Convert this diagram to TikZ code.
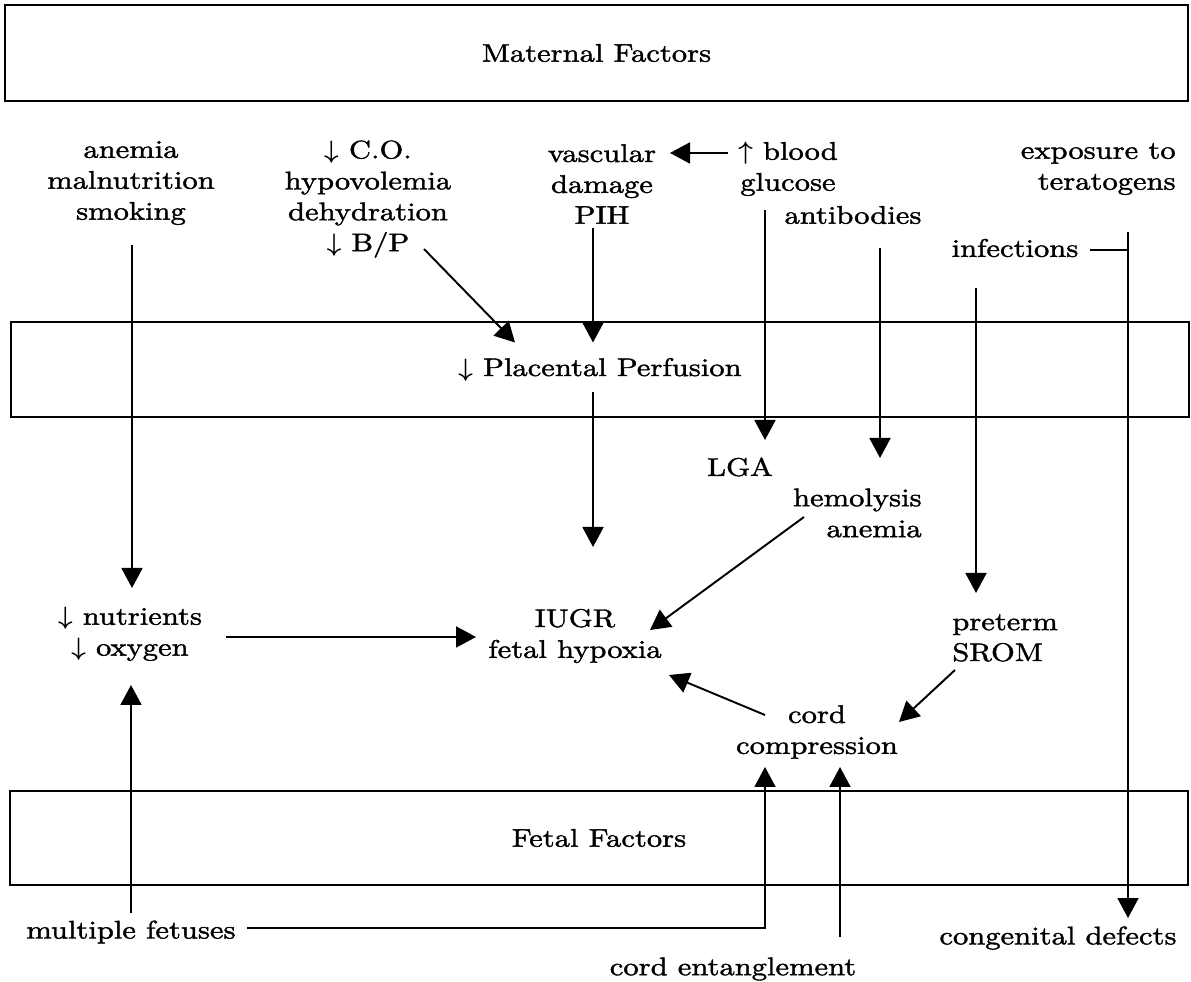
\documentclass[tikz,border=0pt]{standalone}
\usepackage{amsmath}
\usepackage{fontspec}
\setmainfont{lmroman10-regular.otf}[FakeStretch=1.2,FakeBold=1.5]
\usetikzlibrary{arrows.meta,calc}
\newcommand{\dn}{$\boldsymbol{\downarrow}$}
\newcommand{\upa}{$\boldsymbol{\uparrow}$}
\begin{document}
\begin{tikzpicture}[x=0.02cm,y=-0.02cm,
  txt/.style={font=\fontsize{14.5}{17.6}\selectfont},
  lbl/.style={txt, align=center, inner sep=0pt},
  band/.style={txt, draw, line width=0.9pt, inner sep=0pt},
  link/.style={line width=1.1pt},
  arr/.style={link, -{Triangle[length=0.4cm,width=0.42cm]}}]
\useasboundingbox (0,0) rectangle (1191,982);

% the three factor bands
\node[band, minimum width=23.66cm, minimum height=1.92cm] (mat) at (596.5,53) {Maternal Factors};
\node[band, minimum width=23.56cm, minimum height=1.9cm] (plac) at (600,369.5) {\dn{} Placental Perfusion};
\node[band, minimum width=23.56cm, minimum height=1.88cm] (fet) at (599,838) {Fetal Factors};

% maternal causes
\node[lbl] (anem) at (131,183) {anemia\\malnutrition\\smoking};
\node[lbl] (co) at (368,199) {\dn{} C.O.\\hypovolemia\\dehydration\\\dn{} B/P};
\node[lbl] (vasc) at (602,184) {vascular\\damage\\PIH};
\node[lbl] (gluc) at (788,169) {\upa{} blood\\glucose};
\node[lbl] (anti) at (853,215) {antibodies};
\node[lbl, align=right, anchor=east] (expo) at (1176,169) {exposure to\\teratogens};
\node[lbl] (infe) at (1015,248) {infections};

% intermediate effects
\node[lbl] (lga) at (740,467) {LGA};
\node[lbl, align=right, anchor=east] (hemo) at (922,513) {hemolysis\\anemia};
\node[lbl] (nutr) at (130,634) {\dn{} nutrients\\\dn{} oxygen};
\node[lbl] (iugr) at (575,636) {IUGR\\fetal hypoxia};
\node[lbl, align=left, anchor=west] (pret) at (952,638) {preterm\\SROM};
\node[lbl] (cord) at (817,732) {cord\\compression};

% fetal causes and outcomes
\node[lbl] (mult) at (131,932) {multiple fetuses};
\node[lbl] (ent) at (733,969) {cord entanglement};
\node[lbl] (cong) at (1058,938) {congenital defects};

% connectors
\draw[arr] ($(anem.center)+(1,62)$) -- ($(nutr.center)+(2,-46)$);
\draw[arr] ($(co.center)+(56,50)$) -- ($(plac.center)+(-85,-27)$);
\draw[arr] ($(vasc.center)+(-9,44)$) -- ($(plac.center)+(-7,-27)$);
\draw[arr] ($(gluc.center)+(-60,-16)$) -- ($(vasc.center)+(68,-31)$);
\draw[arr] ($(gluc.center)+(-23,41)$) -- ($(lga.center)+(25,-27)$);
\draw[arr] ($(anti.center)+(27,33)$) -- ($(hemo.east)+(-42,-55)$);
\draw[link] ($(infe.center)+(75,2)$) -- ($(expo.east)+(-48,81)$);
\draw[arr] ($(expo.east)+(-48,63)$) -- ($(cong.center)+(70,-20)$);
\draw[arr] ($(infe.center)+(-39,40)$) -- ($(pret.west)+(24,-45)$);
\draw[arr] ($(plac.center)+(-7,23)$) -- ($(iugr.center)+(18,-89)$);
\draw[arr] ($(hemo.east)+(-118,4)$) -- ($(iugr.center)+(75,-6)$);
\draw[arr] ($(nutr.center)+(96,3)$) -- ($(iugr.center)+(-99,1)$);
\draw[arr] ($(pret.west)+(3,32)$) -- ($(cord.center)+(82,-10)$);
\draw[arr] ($(cord.center)+(-52,-17)$) -- ($(iugr.center)+(94,39)$);
\draw[arr] ($(mult.center)+(0,-19)$) -- ($(nutr.center)+(1,51)$);
\draw[arr] ($(mult.center)+(116,-4)$) -| ($(cord.center)+(-52,35)$);
\draw[arr] ($(ent.center)+(107,-32)$) -- ($(cord.center)+(23,35)$);
\end{tikzpicture}
\end{document}
